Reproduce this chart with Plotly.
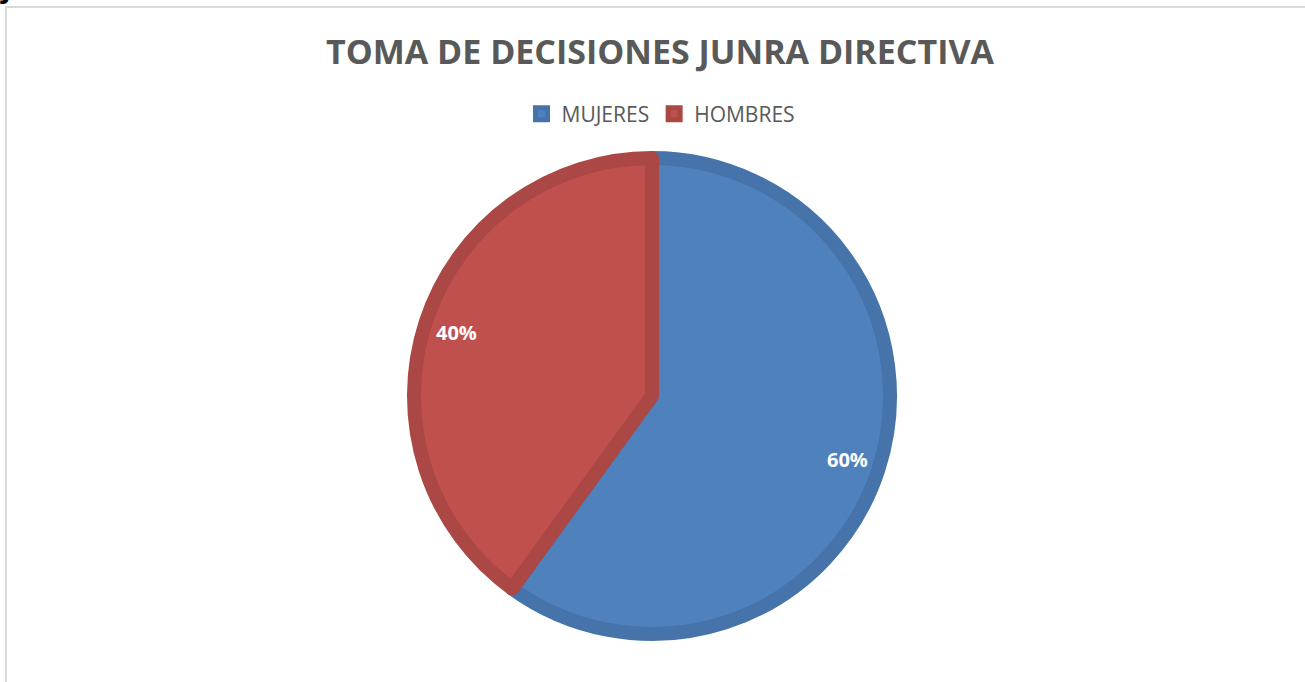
import math
import plotly.graph_objects as go

labels = ["MUJERES", "HOMBRES"]
values = [60, 40]
fill_colors = ["#4F81BD", "#C0504D"]
edge_colors = ["#4673AA", "#AB4744"]
title_text = "TOMA DE DECISIONES JUNRA DIRECTIVA"
W, H = 1305, 682

cx, cy, R = 652, 396, 245
LW = 14

fig = go.Figure()
fig.add_trace(go.Pie(
    labels=labels, values=values, sort=False, direction="clockwise", rotation=0,
    marker=dict(colors=fill_colors, line=dict(color=edge_colors, width=LW)),
    textinfo="none",
    domain=dict(x=[(cx - R + LW / 2) / W, (cx + R - LW / 2) / W],
                y=[1 - (cy + R - LW / 2) / H, 1 - (cy - R + LW / 2) / H]),
    showlegend=True,
))

# percentage labels placed near the outer rim of each slice (angles from data)
total = sum(values)
annotations = []
cum = 0
for v in values:
    mid = (cum + v / 2) / total * 2 * math.pi
    cum += v
    r = 0.84 * R
    px = cx + r * math.sin(mid)
    py = cy - r * math.cos(mid)
    annotations.append(dict(text="<b>%d%%</b>" % round(v / total * 100), xref="paper", yref="paper",
                            x=px / W, y=1 - py / H, xanchor="center", yanchor="middle", showarrow=False,
                            font=dict(family="Open Sans", size=20, color="white")))

annotations.append(dict(text="<b>juntas directivas</b>", xref="paper", yref="paper", x=-2 / W, xanchor="left",
                        y=1 - 7 / H, yanchor="bottom", showarrow=False,
                        font=dict(family="Open Sans", size=28, color="black")))

fig.update_layout(
    width=W, height=H,
    margin=dict(l=0, r=0, t=0, b=0),
    paper_bgcolor="white", plot_bgcolor="white",
    title=dict(text="<b>" + title_text + "</b>", x=660 / W, xanchor="center", y=1 - 52 / H, yanchor="middle",
               font=dict(family="Open Sans", size=34, color="#595959")),
    legend=dict(orientation="h", x=661 / W, xanchor="center", y=1 - 114 / H, yanchor="middle",
                font=dict(family="Open Sans", size=21, color="#595959"),
                itemwidth=30, traceorder="normal"),
    shapes=[dict(type="rect", xref="paper", yref="paper", x0=6 / W, x1=1.02, y0=-0.02, y1=1 - 7 / H,
                 line=dict(color="#D9D9D9", width=2), fillcolor="rgba(0,0,0,0)", layer="below")],
    annotations=annotations,
)

fig.write_html("out.html", config={"displayModeBar": False},
               post_script="document.body.style.margin='0';document.body.style.overflow='hidden';")
